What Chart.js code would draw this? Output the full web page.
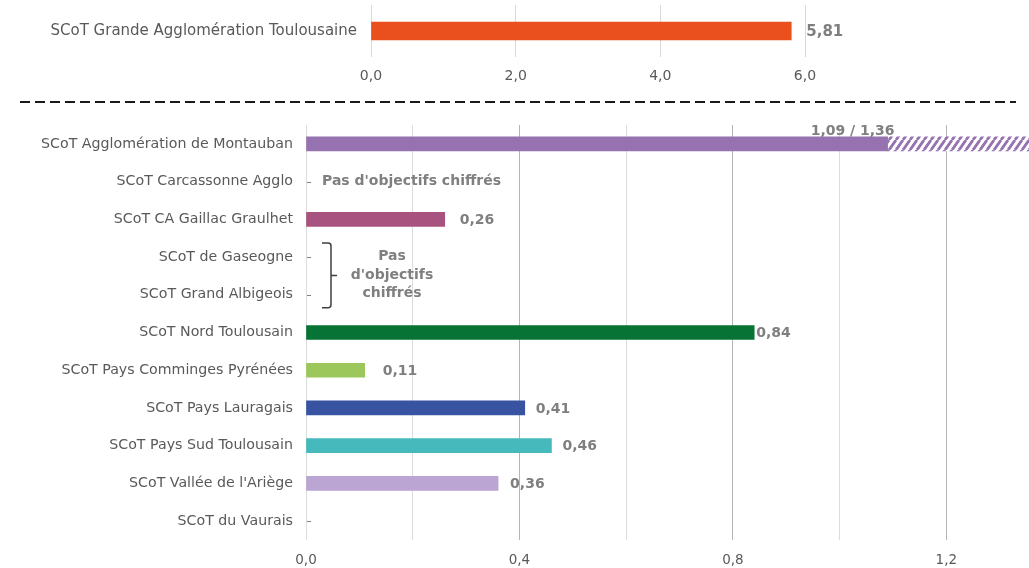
<!DOCTYPE html>
<html lang="fr">
<head>
<meta charset="utf-8">
<title>Consommation d'espace par SCoT</title>
<script src="https://cdn.jsdelivr.net/npm/chart.js@4.4.1/dist/chart.umd.min.js"></script>
<style>
  html, body { margin: 0; padding: 0; background: #fff; }
  #wrap { position: relative; width: 1029px; height: 568px; overflow: hidden; }
  #topChart { position: absolute; left: 0; top: 0; }
  #sep { position: absolute; left: 0; top: 96px; }
  #mainChart { position: absolute; left: 0; top: 110px; }
</style>
</head>
<body>
<div id="wrap">
  <canvas id="topChart" width="1029" height="95"></canvas>
  <svg id="sep" width="1029" height="12">
    <line x1="20" y1="6" x2="1016" y2="6" stroke="#1a1a1a" stroke-width="2" stroke-dasharray="10 5"/>
  </svg>
  <canvas id="mainChart" width="1029" height="458"></canvas>
</div>
<script>
// Grande agglomération, sur son échelle propre
const topScot = ['SCoT Grande Agglomération Toulousaine'];
const topValues = [5.81];
const topTicks = [0, 2, 4, 6];

// Autres SCoT
const scots = [
  'SCoT Agglomération de Montauban',
  'SCoT Carcassonne Agglo',
  'SCoT CA Gaillac Graulhet',
  'SCoT de Gaseogne',
  'SCoT Grand Albigeois',
  'SCoT Nord Toulousain',
  'SCoT Pays Comminges Pyrénées',
  'SCoT Pays Lauragais',
  'SCoT Pays Sud Toulousain',
  "SCoT Vallée de l'Ariège",
  'SCoT du Vaurais'
];
const values = [1.09, null, 0.26, null, null, 0.84, 0.11, 0.41, 0.46, 0.36, null];
// borne haute quand l'objectif est une fourchette
const upperValues = [1.36, null, null, null, null, null, null, null, null, null, null];
const gridTicks = [0, 0.2, 0.4, 0.6, 0.8, 1.0, 1.2];
const labeledTicks = [0, 0.4, 0.8, 1.2];

const noTargetSingle = ['SCoT Carcassonne Agglo'];
const noTargetGroup = ['SCoT de Gaseogne', 'SCoT Grand Albigeois'];

const barColors = ['#9673b0', null, '#a8537f', null, null, '#077334',
                   '#9cc75b', '#3753a2', '#46b9bd', '#bba5d2', null];
// écart entre le bout de barre et son étiquette
const labelGap = [0, 0, 15, 0, 0, 2, 18, 11, 11, 12, 0];

const FONT = '"DejaVu Sans", Verdana, sans-serif';
Chart.defaults.font.family = FONT;

const fmt1 = v => v.toFixed(1).replace('.', ',');
const fmt2 = v => v.toFixed(2).replace('.', ',');
const near = (a, b) => Math.abs(a - b) < 1e-9;

function hatch(color) {
  const w = 7, h = 10;
  const c = document.createElement('canvas');
  c.width = w; c.height = h;
  const g = c.getContext('2d');
  g.fillStyle = '#fff';
  g.fillRect(0, 0, w, h);
  g.strokeStyle = color;
  g.lineWidth = 2.8;
  g.beginPath();
  for (const x of [-w, 0, w]) {
    g.moveTo(x, h);
    g.lineTo(x + w, 0);
  }
  g.stroke();
  return g.createPattern(c, 'repeat');
}

// pas de marge automatique autour des axes
const noPad = s => { s.paddingTop = 0; s.paddingBottom = 0; };

// étiquettes de valeur en bout de barre
const valueLabels = {
  id: 'valueLabels',
  afterDatasetsDraw(chart, args, opts) {
    const { ctx } = chart;
    const meta = chart.getDatasetMeta(0);
    const vals = chart.data.datasets[0].data;
    const upper = opts.upper || [];
    const gaps = opts.gaps || [];
    ctx.save();
    ctx.font = `bold ${opts.size}px ${FONT}`;
    ctx.fillStyle = '#7f7f7f';
    meta.data.forEach((bar, i) => {
      const v = vals[i];
      if (v == null) return;
      if (upper[i] != null) {
        ctx.textAlign = 'right';
        ctx.textBaseline = 'bottom';
        ctx.fillText(fmt2(v) + ' / ' + fmt2(upper[i]), bar.x + 7, bar.y - bar.height / 2 + 1);
      } else {
        ctx.textAlign = 'left';
        ctx.textBaseline = 'middle';
        ctx.fillText(fmt2(v), bar.x + (gaps[i] != null ? gaps[i] : opts.offset), bar.y + 1);
      }
    });
    ctx.restore();
  }
};

// SCoT sans objectif chiffré : tiret, mention et accolade
const missingTargets = {
  id: 'missingTargets',
  afterDatasetsDraw(chart) {
    const { ctx, scales: { x, y } } = chart;
    const x0 = x.getPixelForValue(0);
    ctx.save();
    ctx.strokeStyle = '#7f7f7f';
    ctx.lineWidth = 1;
    values.forEach((v, i) => {
      if (v != null) return;
      const py = Math.round(y.getPixelForValue(i)) + 0.5;
      ctx.beginPath();
      ctx.moveTo(x0 + 1, py);
      ctx.lineTo(x0 + 5, py);
      ctx.stroke();
    });

    ctx.font = `bold 14px ${FONT}`;
    ctx.fillStyle = '#7f7f7f';
    ctx.textBaseline = 'middle';
    ctx.textAlign = 'left';
    noTargetSingle.forEach(name => {
      ctx.fillText("Pas d'objectifs chiffrés", x0 + 16, y.getPixelForValue(scots.indexOf(name)));
    });

    const ya = y.getPixelForValue(scots.indexOf(noTargetGroup[0])) - 14;
    const yb = y.getPixelForValue(scots.indexOf(noTargetGroup[1])) + 13;
    const ym = (ya + yb) / 2;
    const bx = x0 + 25;
    ctx.strokeStyle = '#404040';
    ctx.lineWidth = 1.5;
    ctx.beginPath();
    ctx.moveTo(x0 + 16, ya);
    ctx.lineTo(bx - 3, ya);
    ctx.quadraticCurveTo(bx, ya, bx, ya + 3);
    ctx.lineTo(bx, yb - 3);
    ctx.quadraticCurveTo(bx, yb, bx - 3, yb);
    ctx.lineTo(x0 + 16, yb);
    ctx.moveTo(bx, ym);
    ctx.lineTo(bx + 6, ym);
    ctx.stroke();

    ctx.textAlign = 'center';
    const cx = x0 + 86;
    ctx.fillText('Pas', cx, ym - 19);
    ctx.fillText("d'objectifs", cx, ym);
    ctx.fillText('chiffrés', cx, ym + 18);
    ctx.restore();
  }
};

new Chart(document.getElementById('topChart'), {
  type: 'bar',
  data: {
    labels: topScot,
    datasets: [{ data: topValues, backgroundColor: '#e9501e', barThickness: 18 }]
  },
  options: {
    indexAxis: 'y',
    responsive: false,
    animation: false,
    layout: { padding: { top: 5, right: 224, left: 0, bottom: 0 } },
    plugins: {
      legend: { display: false },
      tooltip: { enabled: false },
      valueLabels: { offset: 15, size: 15 }
    },
    scales: {
      x: {
        min: 0, max: 6,
        afterBuildTicks: s => { s.ticks = topTicks.map(v => ({ value: v })); },
        ticks: { autoSkip: false, padding: 11, color: '#595959', font: { size: 14 }, callback: v => fmt1(v) },
        grid: { color: '#d9d9d9', drawTicks: false },
        border: { display: false },
        afterFit: s => { s.height = 38; }
      },
      y: {
        ticks: { color: '#595959', font: { size: 15 }, padding: 14 },
        grid: { display: false, drawTicks: false },
        border: { display: false },
        afterFit: s => { s.width = 371; noPad(s); }
      }
    }
  },
  plugins: [valueLabels]
});

new Chart(document.getElementById('mainChart'), {
  type: 'bar',
  data: {
    labels: scots,
    datasets: [
      { data: values, backgroundColor: barColors, barThickness: 14, grouped: false },
      {
        data: upperValues.map((u, i) => (u == null ? null : [values[i], u])),
        backgroundColor: hatch('#9673b0'),
        barThickness: 14,
        grouped: false
      }
    ]
  },
  options: {
    indexAxis: 'y',
    responsive: false,
    animation: false,
    layout: { padding: { top: 15, right: 0, left: 0, bottom: 0 } },
    plugins: {
      legend: { display: false },
      tooltip: { enabled: false },
      valueLabels: { offset: 11, size: 14, upper: upperValues, gaps: labelGap }
    },
    scales: {
      x: {
        min: 0, max: 1.355,
        afterBuildTicks: s => { s.ticks = gridTicks.map(v => ({ value: v })); },
        ticks: {
          autoSkip: false, padding: 12, color: '#595959', font: { size: 13.5 },
          callback: v => (labeledTicks.some(t => near(t, v)) ? fmt1(v) : '')
        },
        grid: {
          drawTicks: false,
          color: c => (c.tick && c.tick.value > 0 && labeledTicks.some(t => near(t, c.tick.value)) ? '#b5b5b5' : '#dcdcdc')
        },
        border: { display: false },
        afterFit: s => { s.height = 28; }
      },
      y: {
        ticks: { color: '#595959', font: { size: 14.2 }, padding: 13 },
        grid: { display: false, drawTicks: false },
        border: { display: false },
        afterFit: s => { s.width = 306; noPad(s); }
      }
    }
  },
  plugins: [valueLabels, missingTargets]
});
</script>
</body>
</html>
